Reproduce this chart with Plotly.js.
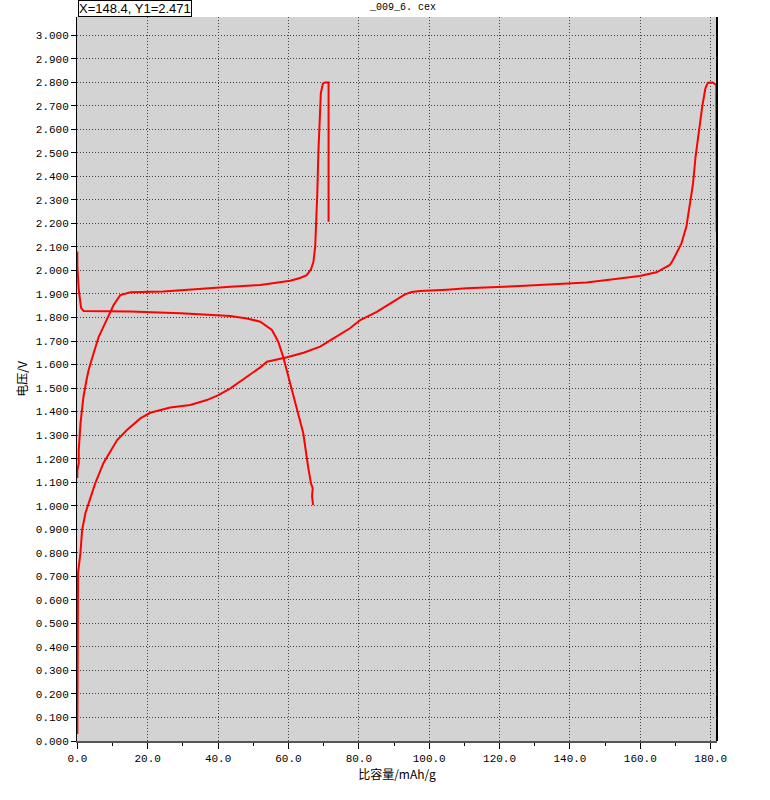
<!DOCTYPE html>
<html>
<head>
<meta charset="utf-8">
<script src="https://cdn.plot.ly/plotly-3.0.1.min.js"></script>
<style>
  body { margin: 0; background: #fff; }
  #graph { width: 770px; height: 800px; }
</style>
</head>
<body>
<div id="graph"></div>
<script>
// voltage / specific capacity curves

// first discharge
var dis1Cap = [0, 0, 0.4, 1.08, 1.8, 15.1, 29.3, 36.8, 43.5, 48.2, 52.0, 55.3, 57.1, 58.5, 60.5, 62.8, 64.2, 65.6, 66.4, 66.9, 66.7, 67.0];
var dis1Volt = [2.08, 2.019, 1.917, 1.84, 1.827, 1.825, 1.818, 1.813, 1.806, 1.796, 1.782, 1.747, 1.697, 1.633, 1.521, 1.394, 1.309, 1.164, 1.095, 1.075, 1.04, 1.003];

// first charge
var chg1Cap = [0, 0, 0.4, 0.4, 0.9, 1.73, 2.6, 3.2, 4.65, 6.07, 7.0, 8.46, 10.3, 12.2, 15.1, 24.4, 34.0, 43.5, 52.0, 57.6, 60.5, 63.3, 65.2, 66.4, 67.1, 67.6, 67.9, 68.2, 68.5, 68.8, 69.2, 69.8, 70.4, 71.4, 71.4];
var chg1Volt = [1.118, 1.152, 1.18, 1.237, 1.351, 1.462, 1.534, 1.577, 1.649, 1.718, 1.747, 1.797, 1.853, 1.895, 1.907, 1.91, 1.921, 1.931, 1.938, 1.948, 1.956, 1.968, 1.98, 2.005, 2.037, 2.101, 2.186, 2.329, 2.499, 2.64, 2.753, 2.795, 2.799, 2.799, 2.207];

// second charge (from 0 V)
var chg2Cap = [0, 0, 0.2, 0.2, 0.88, 1.36, 2.3, 3.7, 5.1, 7.4, 11.3, 14.1, 17.9, 20.7, 26.4, 32.1, 36.8, 40.1, 43.5, 48.2, 52.0, 53.9, 59.6, 64.3, 69.0, 72.8, 77.5, 80.4, 85.1, 89.8, 93.1, 95.0, 97.4, 105.0, 110.6, 125.8, 135.2, 144.7, 152.3, 159.8, 164.6, 168.4, 169.3, 171.7, 173.1, 174.0, 175.0, 175.7, 176.7, 177.6, 178.5, 179.2, 180.6, 181.6, 181.7];
var chg2Volt = [0.03, 0.331, 0.331, 0.714, 0.799, 0.897, 0.969, 1.037, 1.096, 1.181, 1.279, 1.322, 1.371, 1.395, 1.417, 1.428, 1.449, 1.47, 1.499, 1.548, 1.588, 1.612, 1.631, 1.65, 1.676, 1.711, 1.754, 1.789, 1.824, 1.867, 1.898, 1.908, 1.912, 1.918, 1.924, 1.934, 1.941, 1.949, 1.962, 1.976, 1.992, 2.023, 2.044, 2.115, 2.186, 2.271, 2.37, 2.483, 2.597, 2.696, 2.774, 2.798, 2.799, 2.788, 2.165];

// tick labels
var xTickVals = [0, 20, 40, 60, 80, 100, 120, 140, 160, 180];
var xTickText = ["0.0", "20.0", "40.0", "60.0", "80.0", "100.0", "120.0", "140.0", "160.0", "180.0"];
var yTickVals = [];
var yTickText = [];
for (var i = 0; i <= 30; i++) {
    yTickVals.push(i / 10);
    yTickText.push((i / 10).toFixed(3));
}

function drawGraph() {
    var lineStyle = {color: "#ff0000", width: 2};

    var data = [
        {x: dis1Cap, y: dis1Volt, type: "scatter", mode: "lines", line: lineStyle, hoverinfo: "skip"},
        {x: chg1Cap, y: chg1Volt, type: "scatter", mode: "lines", line: lineStyle, hoverinfo: "skip"},
        {x: chg2Cap, y: chg2Volt, type: "scatter", mode: "lines", line: lineStyle, hoverinfo: "skip"}
    ];

    var tickFont = {family: "Liberation Mono, DejaVu Sans Mono, monospace", size: 11, color: "#000"};

    var layout = {
        width: 770,
        height: 800,
        showlegend: false,
        paper_bgcolor: "#ffffff",
        plot_bgcolor: "#d3d3d3",
        margin: {l: 77, r: 53, t: 17, b: 59},
        xaxis: {
            range: [-0.1, 181.8],
            tickvals: xTickVals,
            ticktext: xTickText,
            tickfont: tickFont,
            ticks: "outside",
            ticklen: 6,
            tickcolor: "#000",
            minor: {dtick: 10, ticks: "outside", ticklen: 3, tickcolor: "#000", showgrid: false},
            showgrid: true,
            gridcolor: "#444444",
            griddash: "1px,2px",
            gridwidth: 1,
            showline: true,
            linecolor: "#555555",
            linewidth: 2,
            mirror: false,
            zeroline: false,
            title: {text: "比容量/mAh/g", font: {family: "Noto Sans CJK SC", size: 12, color: "#000"}, standoff: 6},
            automargin: false
        },
        yaxis: {
            range: [0, 3.077],
            tickvals: yTickVals,
            ticktext: yTickText,
            tickfont: tickFont,
            ticks: "outside",
            ticklen: 5,
            tickcolor: "#000",
            showgrid: true,
            gridcolor: "#444444",
            griddash: "1px,2px",
            gridwidth: 1,
            showline: true,
            linecolor: "#000",
            linewidth: 1,
            zeroline: false,
            title: {text: "电压/V", font: {family: "Noto Sans CJK SC", size: 12, color: "#000"}, standoff: 5},
            automargin: false
        },
        shapes: [
            // right frame line
            {type: "line", xref: "paper", yref: "paper", x0: 1, x1: 1, y0: 0, y1: 1, line: {color: "#000", width: 2}}
        ],
        annotations: [
            {
                text: "X=148.4, Y1=2.471",
                xref: "paper", yref: "paper",
                x: 0.002, y: 1.0235,
                xanchor: "left", yanchor: "top",
                showarrow: false,
                font: {family: "Liberation Sans, Arial, sans-serif", size: 13, color: "#000"},
                bgcolor: "#ffffff",
                bordercolor: "#000",
                borderwidth: 1,
                borderpad: 0
            },
            {
                text: "_009_6. cex",
                xref: "paper", yref: "paper",
                x: 0.509, y: 1.0235,
                xanchor: "center", yanchor: "top",
                showarrow: false,
                font: {family: "Liberation Mono, monospace", size: 10, color: "#000"}
            }
        ]
    };

    Plotly.newPlot("graph", data, layout, {staticPlot: true, displayModeBar: false});
}

drawGraph();
</script>
</body>
</html>
